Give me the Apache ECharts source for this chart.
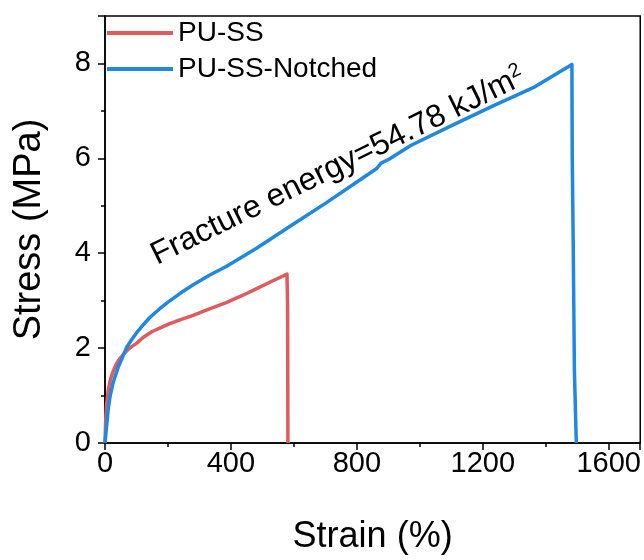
<!DOCTYPE html>
<html>
<head>
<meta charset="utf-8">
<script src="https://cdn.jsdelivr.net/npm/echarts@6/dist/echarts.min.js"></script>
<style>
html,body{margin:0;padding:0;background:#fff;}
#chart{width:644px;height:560px;}
</style>
</head>
<body>
<div id="chart"></div>
<script>
const seriesNames = ['PU-SS', 'PU-SS-Notched'];
const redStrain = [0, 2, 5, 10, 15, 20, 27, 35, 42, 50, 60, 70, 85, 100, 122, 150, 174, 200, 240, 280, 330, 385, 440, 490, 530, 578, 580, 581];
const redStress = [0, 0.45, 0.8, 1.1, 1.27, 1.4, 1.53, 1.65, 1.73, 1.8, 1.88, 1.95, 2.03, 2.1, 2.23, 2.35, 2.42, 2.5, 2.6, 2.69, 2.82, 2.96, 3.12, 3.28, 3.41, 3.56, 2.9, 0];
const blueStrain = [0, 5, 10, 16, 20, 25, 30, 37, 43, 50, 60, 69, 85, 100, 120, 140, 160, 174, 200, 240, 279, 330, 385, 430, 480, 600, 700, 800, 862, 877, 902, 971, 1104, 1231, 1360, 1483, 1484, 1487, 1491, 1497];
const blueStress = [0, 0.35, 0.7, 0.98, 1.1, 1.25, 1.36, 1.5, 1.62, 1.72, 1.88, 2.02, 2.18, 2.32, 2.48, 2.63, 2.75, 2.83, 2.97, 3.16, 3.33, 3.53, 3.72, 3.9, 4.1, 4.62, 5.05, 5.5, 5.78, 5.9, 5.98, 6.27, 6.7, 7.1, 7.49, 7.98, 6.1, 4.3, 1.5, 0];
const xName = 'Strain (%)';
const yName = 'Stress (MPa)';
const annotation = 'Fracture energy=54.78 kJ/m';

const FONT = "'Liberation Sans', Arial, sans-serif";
const RED = '#DF5B5E';
const BLUE = '#1E88E2';

function zip(xs, ys) { return xs.map((x, i) => [x, ys[i]]); }

const chart = echarts.init(document.getElementById('chart'), null, {renderer: 'canvas'});
chart.setOption({
  animation: false,
  backgroundColor: '#fff',
  textStyle: {fontFamily: FONT},
  grid: {left: 105, right: 3, top: 16, bottom: 113, show: true, borderColor: '#000', borderWidth: 1.5, containLabel: false},
  legend: {
    orient: 'vertical', left: 107, top: 19, padding: 0, itemWidth: 66, itemHeight: 4, itemGap: 8,
    icon: 'rect',
    textStyle: {fontSize: 28, fontFamily: FONT, color: '#000'},
    data: seriesNames
  },
  xAxis: {
    type: 'value', min: 0, max: 1700, interval: 400,
    name: xName, nameLocation: 'middle', nameGap: 76,
    nameTextStyle: {fontSize: 36, fontFamily: FONT, color: '#000'},
    axisLine: {show: true, lineStyle: {color: '#000', width: 1.5}},
    axisTick: {show: true, inside: false, length: 7, lineStyle: {color: '#000', width: 1.5}},
    minorTick: {show: true, splitNumber: 2, length: 4, lineStyle: {color: '#000', width: 1.5}},
    axisLabel: {fontSize: 29, fontFamily: FONT, color: '#000', margin: 6, showMaxLabel: false,
                formatter: function (v) { return String(v); }},
    splitLine: {show: false}
  },
  yAxis: {
    type: 'value', min: 0, max: 9, interval: 2,
    name: yName, nameLocation: 'middle', nameGap: 56,
    nameTextStyle: {fontSize: 38, fontFamily: FONT, color: '#000'},
    axisLine: {show: true, lineStyle: {color: '#000', width: 1.5}},
    axisTick: {show: true, inside: false, length: 7, lineStyle: {color: '#000', width: 1.5}},
    minorTick: {show: true, splitNumber: 2, length: 4, lineStyle: {color: '#000', width: 1.5}},
    axisLabel: {fontSize: 29, fontFamily: FONT, color: '#000', margin: 14, showMaxLabel: false,
                formatter: function (v) { return v === 9 ? '' : String(v); }},
    splitLine: {show: false}
  },
  series: [
    {name: seriesNames[0], type: 'line', showSymbol: false, symbol: 'none', color: RED,
     lineStyle: {width: 3.5, color: RED, join: 'round'}, data: zip(redStrain, redStress), z: 2},
    {name: seriesNames[1], type: 'line', showSymbol: false, symbol: 'none', color: BLUE,
     lineStyle: {width: 3.5, color: BLUE, join: 'round'}, data: zip(blueStrain, blueStress), z: 3}
  ],
  graphic: [{
    type: 'text', x: 338, y: 166, rotation: 26.2 * Math.PI / 180, z: 10,
    style: {
      text: '{a|' + annotation + '}{s|2}',
      align: 'center', verticalAlign: 'middle', fill: '#000',
      rich: {
        a: {fontSize: 32, fontFamily: FONT, color: '#000', lineHeight: 34},
        s: {fontSize: 20, fontFamily: FONT, color: '#000', verticalAlign: 'top', lineHeight: 20}
      }
    }
  }]
});
</script>
</body>
</html>
